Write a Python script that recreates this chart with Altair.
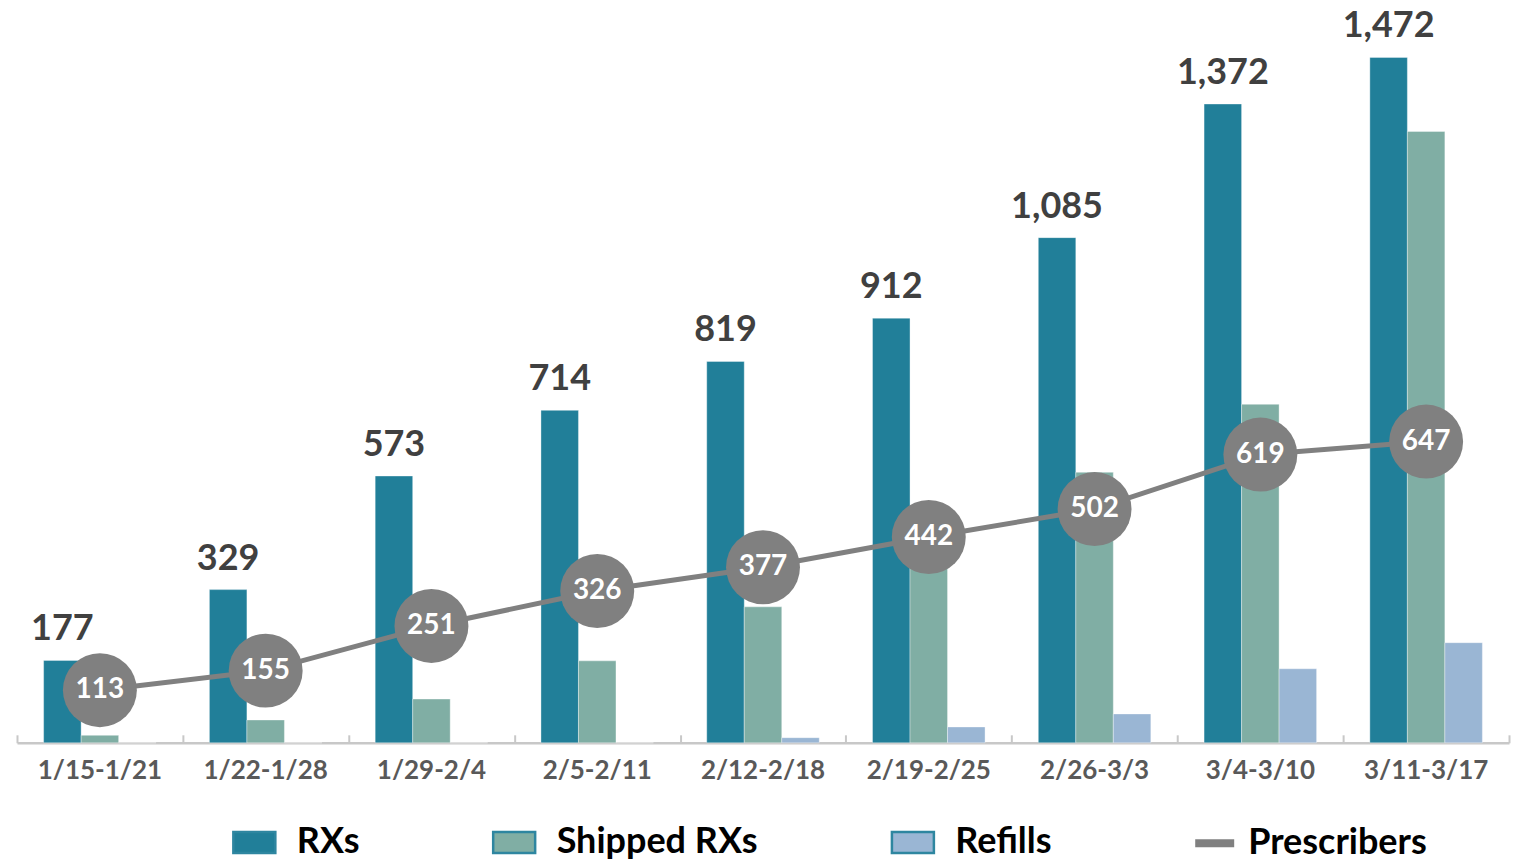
import altair as alt
import pandas as pd

weeks = ["1/15-1/21", "1/22-1/28", "1/29-2/4", "2/5-2/11", "2/12-2/18",
         "2/19-2/25", "2/26-3/3", "3/4-3/10", "3/11-3/17"]
rxs = [177, 329, 573, 714, 819, 912, 1085, 1372, 1472]
shipped = [16, 49, 94, 176, 292, 390, 581, 727, 1313]
refills = [0, 0, 0, 0, 11, 34, 62, 159, 215]
prescribers = [113, 155, 251, 326, 377, 442, 502, 619, 647]

bar_series = ["RXs", "Shipped RXs", "Refills"]
bar_colors = ["#217f99", "#80aea4", "#9ab6d4"]
line_series = ["Prescribers"]
line_color = "#808080"

rows = []
for i, w in enumerate(weeks):
    rows.append({"week": w, "series": "RXs", "value": rxs[i]})
    rows.append({"week": w, "series": "Shipped RXs", "value": shipped[i]})
    rows.append({"week": w, "series": "Refills", "value": refills[i]})
bars_df = pd.DataFrame(rows)
rx_df = pd.DataFrame({"week": weeks, "series": ["RXs"] * len(weeks), "value": rxs})
pr_df = pd.DataFrame({"week": weeks, "series": line_series * len(weeks), "value": prescribers})

FONT = "Lato"
x_scale = alt.Scale(paddingInner=0, paddingOuter=0)

x_main = alt.X("week:N", sort=weeks, title=None, scale=x_scale,
               axis=alt.Axis(orient="bottom", labelAngle=0, labelFontSize=26,
                             labelFontWeight="bold", labelColor="#595959", labelFont=FONT,
                             labelPadding=15, domainColor="#c8c8c8", domainWidth=2.5,
                             ticks=False, tickSize=0))
x_ticks = alt.X("week:N", sort=weeks, title=None, scale=x_scale,
                axis=alt.Axis(orient="bottom", labels=False, domain=False, offset=-8,
                              tickColor="#c8c8c8", tickWidth=2, tickSize=8,
                              tickBand="extent"))
x_plain = alt.X("week:N", sort=weeks, title=None, scale=x_scale, axis=None)

y_enc = alt.Y("value:Q", title=None, axis=None,
              scale=alt.Scale(domain=[0, 1569], nice=False, zero=True))
xoff = alt.XOffset("series:N", sort=bar_series,
                   scale=alt.Scale(domain=bar_series, paddingOuter=0.71, paddingInner=0))

bar_legend = alt.Legend(
    title=None, orient="none", legendX=215, legendY=808, direction="horizontal",
    columns=3, columnPadding=128, labelFontSize=36, labelFontWeight="bold",
    labelFont=FONT, labelColor="#000000", labelOffset=20, symbolSize=1764,
    labelLimit=400, symbolType="M-1,-0.5H1V0.5H-1Z",
    symbolStrokeColor="#2e86a0", symbolStrokeWidth=2.5, symbolOpacity=1)

line_legend = alt.Legend(
    title=None, orient="none", legendX=1175, legendY=808, direction="horizontal",
    labelFontSize=36, labelFontWeight="bold", labelFont=FONT, labelColor="#000000",
    labelOffset=10, symbolSize=1521, labelLimit=400, symbolType="stroke",
    symbolStrokeWidth=8)

bars = alt.Chart(bars_df).mark_bar(stroke="#ffffff", strokeWidth=0.6, strokeOpacity=0.6).encode(
    x=x_main, y=y_enc, xOffset=xoff,
    color=alt.Color("series:N", sort=bar_series,
                    scale=alt.Scale(domain=bar_series, range=bar_colors),
                    legend=bar_legend))

rx_text = alt.Chart(rx_df).mark_text(
    dy=-20, fontSize=36, fontWeight="bold", font=FONT, color="#404040", baseline="alphabetic"
).encode(x=x_plain, y=y_enc, xOffset=xoff, text=alt.Text("value:Q", format=","))

line = alt.Chart(pr_df).mark_line(strokeWidth=5).encode(
    x=x_plain, y=y_enc,
    stroke=alt.Stroke("series:N", scale=alt.Scale(domain=line_series, range=[line_color]),
                      legend=line_legend))

dots = alt.Chart(pr_df).mark_circle(size=5476, opacity=1, color=line_color).encode(
    x=x_ticks, y=y_enc)

dot_text = alt.Chart(pr_df).mark_text(
    fontSize=28, fontWeight="bold", font=FONT, color="#ffffff", baseline="middle"
).encode(x=x_plain, y=y_enc, text=alt.Text("value:Q"))

chart = alt.layer(bars, rx_text, line, dots, dot_text).resolve_axis(
    x="independent"
).properties(
    width=1493, height=731,
    padding={"left": 9, "top": 4, "right": 10, "bottom": 125},
    autosize=alt.AutoSizeParams(type="none")
).configure_view(stroke=None)

chart.save("out.html", embed_options={"renderer": "svg", "actions": False})
